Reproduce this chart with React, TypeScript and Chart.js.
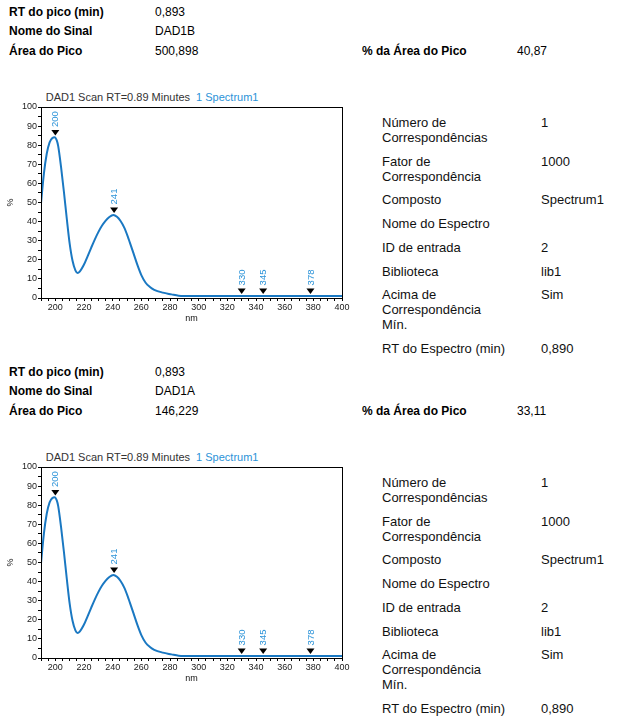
import React, { useEffect, useRef } from "react";
import { Chart, registerables } from "chart.js";

Chart.register(...registerables);

const FONT = '"Liberation Sans", Arial, Helvetica, sans-serif';
const LINE_COLOR = "#1a78c2";
const PEAK_LABEL_COLOR = "#2b93d8";

// Spectrum (nm vs %)
const wavelengths = [
  190, 192, 194, 196, 198, 199.5, 201, 202, 204, 206, 208, 210, 212, 214, 215.5, 217, 220, 222.5, 225, 227.5,
  230, 232.5, 235, 237.5, 240.5, 243, 245.5, 248, 250.5, 252, 254.5, 257.5, 260, 263, 266, 269, 275, 281, 286,
  290, 300, 320, 340, 360, 380, 400,
];
const absorbance = [
  49.5, 65, 75.5, 81.5, 83.8, 84.2, 82.5, 79.5, 68.5, 55.5, 41.5, 28.5, 19.5, 14.5, 13.1, 13.8, 17.5, 21.8, 26.3,
  30.6, 34.5, 37.8, 40.4, 42.3, 43.5, 42.5, 40.3, 37, 32.3, 29, 23.5, 16.8, 12, 8, 5.8, 4.3, 2.8, 1.9, 1.2, 1.1,
  1.1, 1.1, 1.1, 1.1, 1.1, 1.1,
];
const peakNm = [200, 241, 330, 345, 378];
const peakValue = [84, 43.5, 1.1, 1.1, 1.1];
const xTickLabels = [200, 220, 240, 260, 280, 300, 320, 340, 360, 380, 400];
const yTickLabels = [0, 10, 20, 30, 40, 50, 60, 70, 80, 90, 100];
const xAxisTitle = "nm";
const yAxisTitle = "%";
const chartTitle = "DAD1 Scan RT=0.89 Minutes";
const chartSubtitle = "1 Spectrum1";

// Peak info blocks
const peakRT = ["0,893", "0,893"];
const signalNames = ["DAD1B", "DAD1A"];
const peakAreas = ["500,898", "146,229"];
const peakAreaPct = ["40,87", "33,11"];

// Match table
const matchLabels = [
  ["Número de", "Correspondências"],
  ["Fator de", "Correspondência"],
  ["Composto"],
  ["Nome do Espectro"],
  ["ID de entrada"],
  ["Biblioteca"],
  ["Acima de", "Correspondência", "Mín."],
  ["RT do Espectro (min)"],
];
const matchValues = ["1", "1000", "Spectrum1", "", "2", "lib1", "Sim", "0,890"];

const decorPlugin = {
  id: "spectrumDecor",
  afterDraw(chart: any) {
    const { ctx, chartArea: a, scales } = chart;
    ctx.save();
    ctx.strokeStyle = "#000";
    ctx.lineWidth = 1;
    const l = Math.round(a.left) + 0.5;
    const t = Math.round(a.top) + 0.5;
    ctx.strokeRect(l, t, Math.round(a.right) - Math.round(a.left), Math.round(a.bottom) - Math.round(a.top));

    peakNm.forEach((nm, i) => {
      const x = scales.x.getPixelForValue(nm);
      const y = scales.y.getPixelForValue(peakValue[i]) - 2;
      ctx.fillStyle = "#000";
      ctx.beginPath();
      ctx.moveTo(x, y);
      ctx.lineTo(x - 4, y - 5.5);
      ctx.lineTo(x + 4, y - 5.5);
      ctx.closePath();
      ctx.fill();
      ctx.save();
      ctx.translate(x, y - 8.5);
      ctx.rotate(-Math.PI / 2);
      ctx.fillStyle = PEAK_LABEL_COLOR;
      ctx.font = `9.5px ${FONT}`;
      ctx.textAlign = "left";
      ctx.textBaseline = "middle";
      ctx.fillText(String(nm), 0, 0.5);
      ctx.restore();
    });

    ctx.fillStyle = "#111";
    ctx.font = `9px ${FONT}`;
    ctx.textAlign = "center";
    ctx.textBaseline = "middle";
    ctx.fillText(xAxisTitle, (a.left + a.right) / 2, a.bottom + 20.5);
    ctx.save();
    ctx.translate(10.7, (a.top + a.bottom) / 2);
    ctx.rotate(-Math.PI / 2);
    ctx.fillText(yAxisTitle, 0, 0);
    ctx.restore();
    ctx.restore();
  },
};

function SpectrumChart({ top }: { top: number }) {
  const ref = useRef<HTMLCanvasElement>(null);
  useEffect(() => {
    const chart = new Chart(ref.current as HTMLCanvasElement, {
      type: "line",
      data: {
        datasets: [
          {
            data: wavelengths.map((x, i) => ({ x, y: absorbance[i] })),
            borderColor: LINE_COLOR,
            borderWidth: 2,
            pointRadius: 0,
            cubicInterpolationMode: "monotone",
            fill: false,
          },
        ],
      },
      options: {
        animation: false,
        responsive: true,
        maintainAspectRatio: false,
        layout: { padding: { top: 7, right: 10, bottom: 12, left: 0 } },
        plugins: { legend: { display: false }, tooltip: { enabled: false } },
        scales: {
          x: {
            type: "linear",
            min: 190,
            max: 400,
            afterFit: (s: any) => {
              s.height = 20;
            },
            grid: { drawOnChartArea: false, drawTicks: true, tickLength: 3, color: "#000" },
            border: { display: true, color: "#000" },
            ticks: {
              stepSize: 5,
              autoSkip: false,
              maxRotation: 0,
              padding: 1,
              color: "#1a1a1a",
              font: { family: FONT, size: 9 },
              callback: (v: any) => (xTickLabels.includes(v) ? String(v) : ""),
            },
          },
          y: {
            type: "linear",
            min: 0,
            max: 100,
            afterFit: (s: any) => {
              s.width = 41;
            },
            grid: { drawOnChartArea: false, drawTicks: true, tickLength: 3, color: "#000" },
            border: { display: true, color: "#000" },
            ticks: {
              stepSize: 5,
              autoSkip: false,
              padding: 1,
              color: "#1a1a1a",
              font: { family: FONT, size: 9 },
              callback: (v: any) => (yTickLabels.includes(v) ? String(v) : ""),
            },
          },
        },
      } as any,
      plugins: [decorPlugin],
    });
    return () => chart.destroy();
  }, []);
  return (
    <div style={{ position: "absolute", left: 0, top, width: 352, height: 230 }}>
      <canvas ref={ref} />
    </div>
  );
}

function Txt({ x, y, size, bold, color, children }: any) {
  const lh = size + 2;
  return (
    <div
      style={{
        position: "absolute",
        left: x,
        top: y - lh / 2,
        fontFamily: FONT,
        fontSize: size,
        lineHeight: `${lh}px`,
        fontWeight: bold ? "bold" : "normal",
        color: color || "#000",
        whiteSpace: "nowrap",
      }}
    >
      {children}
    </div>
  );
}

function Block({ idx, oy }: { idx: number; oy: number }) {
  const rows: any[] = [];
  let y = 122.5 + oy;
  matchLabels.forEach((lines, r) => {
    lines.forEach((ln, k) => {
      rows.push(
        <Txt key={`l${r}-${k}`} x={382} y={y + k * 15} size={13} color="#111">
          {ln}
        </Txt>
      );
    });
    if (matchValues[r])
      rows.push(
        <Txt key={`v${r}`} x={541} y={y} size={13} color="#111">
          {matchValues[r]}
        </Txt>
      );
    y += lines.length * 15 + 8.7;
  });
  return (
    <>
      <Txt x={9} y={11.5 + oy} size={12} bold>RT do pico (min)</Txt>
      <Txt x={155} y={11.5 + oy} size={12}>{peakRT[idx]}</Txt>
      <Txt x={9} y={31 + oy} size={12} bold>Nome do Sinal</Txt>
      <Txt x={155} y={31 + oy} size={12}>{signalNames[idx]}</Txt>
      <Txt x={9} y={51 + oy} size={12} bold>Área do Pico</Txt>
      <Txt x={155} y={51 + oy} size={12}>{peakAreas[idx]}</Txt>
      <Txt x={362} y={51 + oy} size={12} bold>% da Área do Pico</Txt>
      <Txt x={517} y={51 + oy} size={12}>{peakAreaPct[idx]}</Txt>
      <Txt x={45.7} y={97.7 + oy} size={11} color="#333">
        {chartTitle}
        <span style={{ color: PEAK_LABEL_COLOR, marginLeft: 6 }}>{chartSubtitle}</span>
      </Txt>
      <SpectrumChart top={100 + oy} />
      {rows}
    </>
  );
}

export default function App() {
  return (
    <div style={{ position: "absolute", left: 0, top: 0, width: 628, height: 728, background: "#fff" }}>
      <Block idx={0} oy={0} />
      <Block idx={1} oy={360} />
    </div>
  );
}
